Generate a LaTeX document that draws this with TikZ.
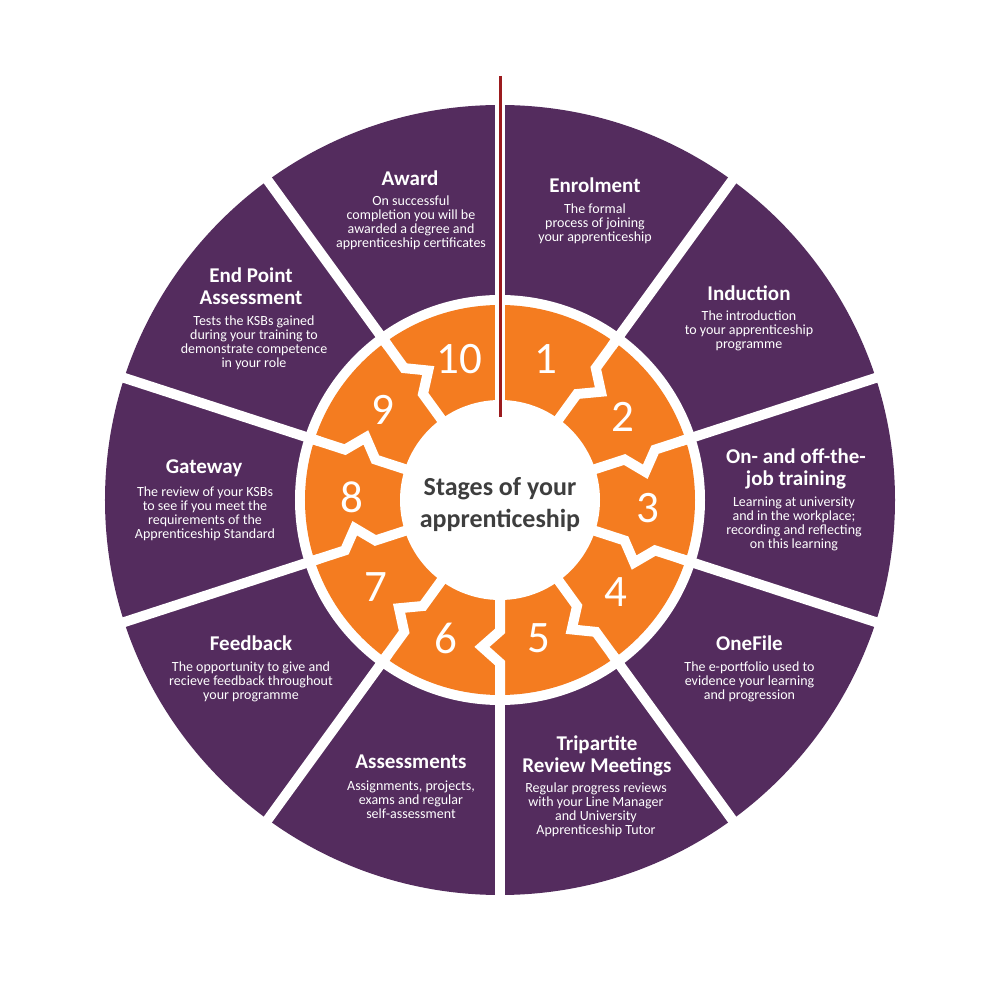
\documentclass[tikz,border=0pt]{standalone}
\usepackage{fontspec}
\setmainfont{Carlito}
\definecolor{purp}{RGB}{84,44,94}
\definecolor{orng}{RGB}{244,124,32}
\definecolor{redl}{RGB}{155,27,30}
\definecolor{ctext}{RGB}{62,62,62}
\begin{document}
\begin{tikzpicture}[x=1pt,y=1pt,
  ttl/.style={text=white, font=\fontsize{21}{22}\selectfont\bfseries, align=center, inner sep=0},
  dsc/.style={text=white, font=\fontsize{14}{14}\selectfont, align=center, inner sep=0},
  num/.style={text=white, font=\fontsize{45}{45}\selectfont, inner sep=0},
  gapline/.style={white, line width=10},
  ]
\useasboundingbox (-500,-500) rectangle (500,500);
\fill[white] (-500,-500) rectangle (500,500);
% rings
\fill[purp] (0,0) circle (395);
\fill[white] (0,0) circle (205);
\fill[orng] (0,0) circle (195);
\fill[white] (0,0) circle (100);
% purple gaps
\foreach \t in {0,36,...,324} \draw[gapline] ({90-\t}:190) -- ({90-\t}:410);
% orange piece boundaries
\draw[gapline] (90:95) -- (90:200);
\foreach \t in {36,72,...,324}
  \draw[gapline, line join=miter] ({90-\t}:95) -- ({90-\t}:131) -- ({90-\t-7}:148) -- ({90-\t}:163) -- ({90-\t}:200);
% red line
\coordinate (rtop) at (0,424);
\coordinate (rbot) at (0,83);
\draw[redl, line width=3] (rtop) -- (rbot);
% centre
\node[name=centre, font=\fontsize{26}{32}\selectfont\bfseries, text=ctext, align=center, inner sep=0] at (0,-5) {Stages of your\\apprenticeship};
% numbers
\node[num] (n1) at (46,141) {1};
\node[num] (n2) at (123,83) {2};
\node[num] (n3) at (148,-8) {3};
\node[num] (n4) at (116,-92) {4};
\node[num] (n5) at (39,-138) {5};
\node[num] (n6) at (-54,-138) {6};
\node[num] (n7) at (-124,-87) {7};
\node[num] (n8) at (-148,3) {8};
\node[num] (n9) at (-117,90) {9};
\node[num] (n10) at (-41,141) {10};
% titles
\node[ttl] (t1) at (95,315) {Enrolment};
\node[ttl] (t2) at (249,207) {Induction};
\node[ttl] (t3) at (296,31) {On- and off-the-\\job training};
\node[ttl] (t4) at (249.5,-143) {OneFile};
\node[ttl] (t5) at (97,-256) {Tripartite\\Review Meetings};
\node[ttl] (t6) at (-89,-262) {Assessments};
\node[ttl] (t7) at (-249,-143) {Feedback};
\node[ttl] (t8) at (-296,32) {Gateway};
\node[ttl] (t9) at (-249,214) {End Point\\Assessment};
\node[ttl] (t10) at (-90,322) {Award};
% descriptions
\node[dsc] (d1) at (95,276.5) {The formal\\process of joining\\your apprenticeship};
\node[dsc] (d2) at (249,169) {The introduction\\to your apprenticeship\\programme};
\node[dsc] (d3) at (294,-24) {Learning at university\\and in the workplace;\\recording and reflecting\\on this learning};
\node[dsc] (d4) at (249.5,-182) {The e-portfolio used to\\evidence your learning\\and progression};
\node[dsc] (d5) at (96,-310) {Regular progress reviews\\with your Line Manager\\and University\\Apprenticeship Tutor};
\node[dsc] (d6) at (-89,-300) {Assignments, projects,\\exams and regular\\self-assessment};
\node[dsc] (d7) at (-249,-181.5) {The opportunity to give and\\recieve feedback throughout\\your programme};
\node[dsc] (d8) at (-295,-13.5) {The review of your KSBs\\to see if you meet the\\requirements of the\\Apprenticeship Standard};
\node[dsc] (d9) at (-246,157) {Tests the KSBs gained\\during your training to\\demonstrate competence\\in your role};
\node[dsc] (d10) at (-89,277) {On successful\\completion you will be\\awarded a degree and\\apprenticeship certificates};
\end{tikzpicture}
\end{document}
